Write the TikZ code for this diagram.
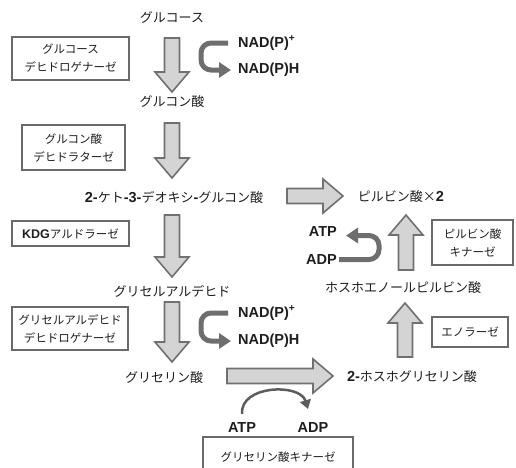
\documentclass[tikz,border=0pt]{standalone}
\usepackage{fontspec}
\setmainfont{Liberation Sans}
\newfontfamily\jp{Noto Sans CJK JP}
\usetikzlibrary{calc,arrows.meta}
\definecolor{arrfill}{HTML}{D4D4D4}
\definecolor{arredge}{HTML}{707070}
\definecolor{boxedge}{HTML}{6A6A6A}
\definecolor{curv}{HTML}{6E6E6E}
\definecolor{ink}{HTML}{1E1E1E}
\newcommand\latfont{\rmfamily\bfseries\fontsize{14.5}{14.5}\selectfont}
\newcommand\lat[1]{{\latfont #1}}
\newcommand\latb[1]{{\rmfamily\bfseries\fontsize{12.5}{12.5}\selectfont #1}}
\newcommand\fatarrow[2]{%
  \coordinate (fa-c) at ($(#2)!20pt!(#1)$);
  \draw[fatarrow] ($(#1)!7.5pt!90:(#2)$) -- ($(fa-c)!7.5pt!-90:(#1)$) -- ($(fa-c)!17pt!-90:(#1)$) -- (#2)
    -- ($(fa-c)!17pt!90:(#1)$) -- ($(fa-c)!7.5pt!90:(#1)$) -- ($(#1)!7.5pt!-90:(#2)$) -- cycle;}
\tikzset{
  lbl/.style={font=\jp\fontsize{13}{18}\selectfont, inner sep=0pt, text=ink, text height=10.5pt, text depth=2.5pt},
  cofl/.style={font=\latfont, inner sep=0pt, text=ink},
  enz/.style={draw=boxedge, line width=2pt, fill=white, font=\jp\fontsize{11.5}{18}\selectfont, align=center, inner sep=0pt, text=ink},
  fatarrow/.style={draw=arredge, fill=arrfill, line width=1.6pt, line join=miter},
  cof/.style={draw=curv, line width=5pt, rounded corners=10pt, -{Triangle[length=12pt,width=15pt]}},
  thincof/.style={draw=curv!85!black, line width=2.5pt, -{Triangle[length=9pt,width=11pt]}},
}
\begin{document}
\begin{tikzpicture}[x=1pt,y=-1pt]
\useasboundingbox (0,0) rectangle (516,467);
\clip (0,0) rectangle (516,467);

% metabolites
\node[lbl] (glc)  at (172,18)  {グルコース};
\node[lbl] (glcA) at (172,102) {グルコン酸};
\node[lbl] (kdg)  at (174,198) {\lat{2-}ケト\lat{-3-}デオキシ\lat{-}グルコン酸};
\node[lbl] (gald) at (172,292) {グリセルアルデヒド};
\node[lbl] (glyc) at (164,378) {グリセリン酸};
\node[lbl] (pg2)  at (412,377) {\lat{2-}ホスホグリセリン酸};
\node[lbl] (pep)  at (403,288) {ホスホエノールピルビン酸};
\node[lbl] (pyr)  at (401,197) {ピルビン酸×\lat{2}};

% enzymes
\node[enz, minimum width=117pt, minimum height=43pt] (e1) at (70.5,58.5) {グルコース\\デヒドロゲナーゼ};
\node[enz, minimum width=103pt, minimum height=45pt] (e2) at (73.5,147.5) {グルコン酸\\デヒドラターゼ};
\node[enz, minimum width=117pt, minimum height=25pt] (e3) at (70.5,233.5) {\latb{KDG}アルドラーゼ};
\node[enz, minimum width=116pt, minimum height=43pt] (e4) at (70,328.5) {グリセルアルデヒド\\デヒドロゲナーゼ};
\node[enz, minimum width=81pt, minimum height=45pt] (e5) at (472.5,242.5) {ピルビン酸\\キナーゼ};
\node[enz, minimum width=76pt, minimum height=30pt] (e6) at (470,332) {エノラーゼ};
\node[enz, minimum width=150pt, minimum height=40pt] (e7) at (278,457) {};
\node[lbl, font=\jp\fontsize{11.5}{18}\selectfont] (e7t) at (278,457) {グリセリン酸キナーゼ};

% cofactors
\node[cofl, anchor=west] (np1) at (238,43) {NAD(P)\textsuperscript{+}};
\node[cofl, anchor=west] (nh1) at (238,70) {NAD(P)H};
\node[cofl, anchor=west] (np2) at (238,313) {NAD(P)\textsuperscript{+}};
\node[cofl, anchor=west] (nh2) at (238,341) {NAD(P)H};
\node[cofl, anchor=east] (atp1) at (337,231.5) {ATP};
\node[cofl, anchor=east] (adp1) at (337,259.5) {ADP};
\node[cofl] (atp2) at (242,427) {ATP};
\node[cofl] (adp2) at (313,427) {ADP};

% big arrows
\coordinate (a1s) at (172,38);  \coordinate (a1e) at (172,92);
\coordinate (a2s) at (172,123); \coordinate (a2e) at (172,178);
\coordinate (a3s) at (172,215); \coordinate (a3e) at (172,277);
\coordinate (a4s) at (172,302); \coordinate (a4e) at (172,362);
\coordinate (a5s) at (287,196); \coordinate (a5e) at (343,196);
\coordinate (a6s) at (406,270); \coordinate (a6e) at (406,215);
\coordinate (a7s) at (405,357); \coordinate (a7e) at (405,303);
\coordinate (a8s) at (227,376); \coordinate (a8e) at (333,376);
\fatarrow{a1s}{a1e}
\fatarrow{a2s}{a2e}
\fatarrow{a3s}{a3e}
\fatarrow{a4s}{a4e}
\fatarrow{a5s}{a5e}
\fatarrow{a6s}{a6e}
\fatarrow{a7s}{a7e}
\fatarrow{a8s}{a8e}

% cofactor arrows
\draw[cof] ([xshift=-10pt]np1.west) -- ++(-27pt,0pt) |- ([xshift=-7pt]nh1.west);
\draw[cof] ([xshift=-10pt]np2.west) -- ++(-27pt,0pt) |- ([xshift=-7pt]nh2.west);
\draw[cof] ([xshift=2pt]adp1.east) -- ++(40pt,0pt) |- ([xshift=9pt,yshift=-4pt]atp1.east);
\draw[thincof] ([yshift=8pt]atp2.north) .. controls (240,385) and (300,383) .. (308,409);
\end{tikzpicture}
\end{document}
